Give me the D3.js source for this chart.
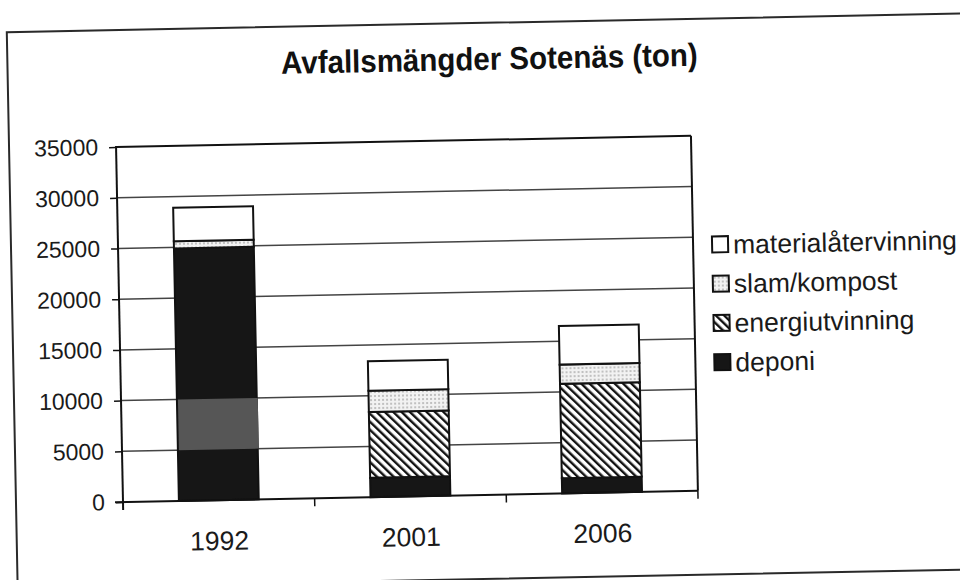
<!DOCTYPE html>
<html>
<head>
<meta charset="utf-8">
<script src="https://cdn.jsdelivr.net/npm/d3@7"></script>
<style>
  body { margin: 0; background: #fff; }
  svg { display: block; font-family: "Liberation Sans", Arial, sans-serif; }
</style>
</head>
<body>
<div id="chart"></div>
<script>
// Data (ton)
const years = ["1992", "2001", "2006"];
const deponi = [24900, 1900, 1500];
const energiutvinning = [0, 6500, 9300];
const slamKompost = [700, 2100, 1900];
const materialatervinning = [3300, 2900, 3800];
const seriesKeys = ["deponi", "energiutvinning", "slam/kompost", "materialåtervinning"];
const yTicks = [0, 5000, 10000, 15000, 20000, 25000, 30000, 35000];
// grey patch visible on the 1992 bar in the scan
const shadeRange = [5000, 10000];

var margin = {top: 147, left: 123},
    width = 575,
    height = 355;

var svg = d3.select("#chart")
  .append("svg")
  .attr("width", 960)
  .attr("height", 580);

// patterns
var defs = svg.append("defs");
var hatch = defs.append("pattern")
  .attr("id", "hatch")
  .attr("patternUnits", "userSpaceOnUse")
  .attr("width", 5.8).attr("height", 5.8)
  .attr("patternTransform", "rotate(-45)");
hatch.append("rect").attr("width", 5.8).attr("height", 5.8).attr("fill", "#fff");
hatch.append("line")
  .attr("x1", 1.2).attr("y1", 0).attr("x2", 1.2).attr("y2", 5.8)
  .attr("stroke", "#111").attr("stroke-width", 2.4);

var dots = defs.append("pattern")
  .attr("id", "dots")
  .attr("patternUnits", "userSpaceOnUse")
  .attr("width", 4).attr("height", 4);
dots.append("rect").attr("width", 4).attr("height", 4).attr("fill", "#f2f2f2");
dots.append("circle").attr("cx", 2).attr("cy", 2).attr("r", 1).attr("fill", "#b0b0b0");

const fills = {
  "deponi": "#161616",
  "energiutvinning": "url(#hatch)",
  "slam/kompost": "url(#dots)",
  "materialåtervinning": "#fff"
};

// whole page is slightly tilted in the scan
var page = svg.append("g")
  .attr("transform", "rotate(-1.12," + margin.left + "," + (margin.top + height) + ")");

// outer chart border
page.append("rect")
  .attr("x", 16).attr("y", 30)
  .attr("width", 1000).attr("height", 556)
  .attr("fill", "none")
  .attr("stroke", "#2a2a2a")
  .attr("stroke-width", 2);

// title
page.append("text")
  .attr("transform", "translate(498,77) scale(1,1.08)")
  .attr("text-anchor", "middle")
  .style("font-size", "29.5px")
  .style("font-weight", "bold")
  .attr("fill", "#111")
  .text("Avfallsmängder Sotenäs (ton)");

var g = page.append("g")
  .attr("transform", "translate(" + margin.left + "," + margin.top + ")");

var x = d3.scaleBand()
  .domain(years)
  .range([0, width])
  .paddingInner(0.5833)
  .paddingOuter(0.2917);

var y = d3.scaleLinear()
  .domain([0, 35000])
  .range([height, 0]);

// gridlines
g.selectAll(".grid")
  .data(yTicks.filter(function(d) { return d > 0 && d < 35000; }))
  .enter().append("line")
  .attr("class", "grid")
  .attr("x1", 0).attr("x2", width)
  .attr("y1", function(d) { return y(d); })
  .attr("y2", function(d) { return y(d); })
  .attr("stroke", "#444")
  .attr("stroke-width", 1.5);

// plot frame (top and right)
g.append("line")
  .attr("x1", 0).attr("x2", width).attr("y1", y(35000)).attr("y2", y(35000))
  .attr("stroke", "#111").attr("stroke-width", 2);
g.append("line")
  .attr("x1", width).attr("x2", width).attr("y1", y(35000)).attr("y2", y(0))
  .attr("stroke", "#111").attr("stroke-width", 2);

// stacked bars
var rows = years.map(function(yr, i) {
  return {
    year: yr,
    "deponi": deponi[i],
    "energiutvinning": energiutvinning[i],
    "slam/kompost": slamKompost[i],
    "materialåtervinning": materialatervinning[i]
  };
});
var stacked = d3.stack().keys(seriesKeys)(rows);

g.selectAll(".layer")
  .data(stacked)
  .enter().append("g")
  .attr("class", "layer")
  .attr("fill", function(d) { return fills[d.key]; })
  .selectAll("rect")
  .data(function(d) { return d.filter(function(s) { return s[1] > s[0]; }); })
  .enter().append("rect")
  .attr("x", function(d) { return x(d.data.year); })
  .attr("y", function(d) { return y(d[1]); })
  .attr("width", x.bandwidth())
  .attr("height", function(d) { return y(d[0]) - y(d[1]); })
  .attr("stroke", "#111")
  .attr("stroke-width", 2);

g.append("rect")
  .attr("x", x("1992") + 1)
  .attr("y", y(shadeRange[1]))
  .attr("width", x.bandwidth())
  .attr("height", y(shadeRange[0]) - y(shadeRange[1]))
  .attr("fill", "#565656");

// y axis
var yAxis = g.append("g")
  .call(d3.axisLeft(y).tickValues(yTicks).tickSize(7).tickPadding(11).tickFormat(d3.format("d")));
yAxis.select(".domain").remove();
yAxis.selectAll("line").attr("stroke", "#111").attr("stroke-width", 1.5);
yAxis.selectAll("text")
  .style("font-size", "23px")
  .attr("fill", "#1a1a1a");
g.append("line")
  .attr("x1", 0).attr("x2", 0).attr("y1", y(35000) - 1).attr("y2", y(0) + 8)
  .attr("stroke", "#111").attr("stroke-width", 2);

// x axis: ticks sit between categories
var xAxis = g.append("g")
  .attr("transform", "translate(0," + height + ")")
  .call(d3.axisBottom(x).tickSize(0).tickPadding(31));
xAxis.select(".domain").remove();
xAxis.selectAll("text")
  .style("font-size", "26.5px")
  .attr("fill", "#1a1a1a");
g.append("line")
  .attr("x1", -8).attr("x2", width).attr("y1", height).attr("y2", height)
  .attr("stroke", "#111").attr("stroke-width", 2);
g.selectAll(".xtick")
  .data(d3.range(1, years.length + 1))
  .enter().append("line")
  .attr("class", "xtick")
  .attr("x1", function(i) { return i * x.step(); })
  .attr("x2", function(i) { return i * x.step(); })
  .attr("y1", height).attr("y2", height + 8)
  .attr("stroke", "#111").attr("stroke-width", 1.5);

// legend
var legendKeys = seriesKeys.slice().reverse();
var legend = page.selectAll(".legend")
  .data(legendKeys)
  .enter().append("g")
  .attr("class", "legend")
  .attr("transform", function(d, i) { return "translate(717," + (256 + i * 39.3) + ")"; });
legend.append("rect")
  .attr("x", 0).attr("y", -8)
  .attr("width", 16).attr("height", 16)
  .attr("fill", function(d) { return fills[d]; })
  .attr("stroke", "#111")
  .attr("stroke-width", 2);
legend.append("text")
  .attr("x", 21).attr("y", 0)
  .attr("dy", "0.36em")
  .style("font-size", "26.5px")
  .attr("fill", "#1a1a1a")
  .text(function(d) { return d; });
</script>
</body>
</html>
